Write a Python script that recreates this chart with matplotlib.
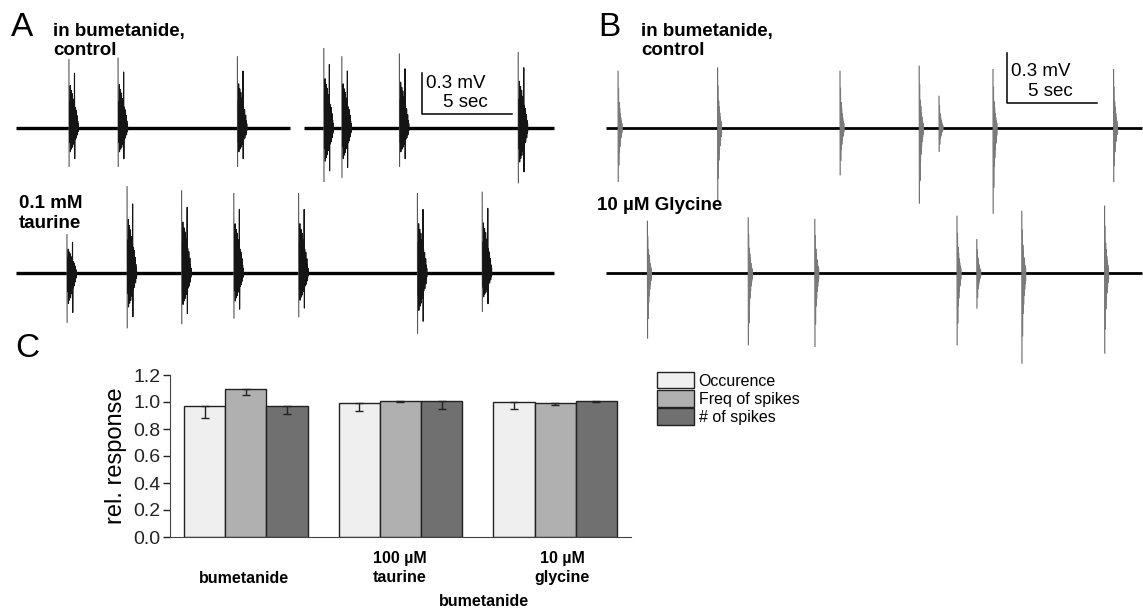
import numpy as np
import matplotlib
matplotlib.use('Agg')
import matplotlib.pyplot as plt

plt.rcParams['font.family'] = ['Liberation Sans', 'DejaVu Sans']

# ---- data ----
# panel A traces (time in s, amplitude in mV)
a_top_segments = [(0.0, 15.2), (16.0, 29.9)]
a_top_times = [2.94, 5.67, 12.3, 17.1, 18.1, 21.3, 27.9]
a_top_up = [0.50, 0.51, 0.52, 0.58, 0.52, 0.54, 0.55]
a_top_down = [0.28, 0.28, 0.28, 0.39, 0.36, 0.28, 0.40]

a_bot_segments = [(0.0, 29.9)]
a_bot_times = [2.83, 6.17, 9.2, 12.1, 15.7, 22.3, 25.9]
a_bot_up = [0.28, 0.63, 0.60, 0.58, 0.58, 0.58, 0.59]
a_bot_down = [0.36, 0.40, 0.37, 0.33, 0.32, 0.44, 0.28]

# panel B traces
b_top_segments = [(0.0, 29.8)]
b_top_times = [0.67, 6.2, 13.0, 17.4, 18.5, 21.5, 28.2]
b_top_up = [0.34, 0.36, 0.34, 0.37, 0.19, 0.35, 0.35]
b_top_down = [0.32, 0.43, 0.28, 0.45, 0.14, 0.51, 0.32]

b_bot_segments = [(0.0, 29.8)]
b_bot_times = [2.3, 7.9, 11.6, 19.5, 20.6, 23.1, 27.7]
b_bot_up = [0.31, 0.33, 0.32, 0.34, 0.20, 0.37, 0.40]
b_bot_down = [0.39, 0.43, 0.44, 0.43, 0.21, 0.54, 0.48]

# burst shapes (offset in s, relative amplitude); first entry is the tall spike
a_burst_dt = [0.00, 0.04, 0.07, 0.10, 0.13, 0.16, 0.19, 0.22, 0.25,
              0.28, 0.31, 0.34, 0.37, 0.40, 0.43, 0.46, 0.49, 0.52]
a_burst_rel = [1.00, 0.38, 0.62, 0.45, 0.55, 0.40, 0.50, 0.33, 0.42,
               0.28, 0.80, 0.30, 0.22, 0.26, 0.15, 0.18, 0.10, 0.06]
b_burst_dt = [0.00, 0.03, 0.06, 0.09, 0.12, 0.15, 0.18, 0.21]
b_burst_rel = [1.00, 0.70, 0.45, 0.35, 0.25, 0.18, 0.12, 0.08]

# panel C bars
groups = ['bumetanide', '100 µM\ntaurine', '10 µM\nglycine']
series = ['Occurence', 'Freq of spikes', '# of spikes']
occ = [0.97, 0.99, 1.00]
occ_err = [0.09, 0.06, 0.05]
freq = [1.10, 1.01, 0.99]
freq_err = [0.05, 0.01, 0.01]
nspk = [0.97, 1.01, 1.01]
nspk_err = [0.06, 0.06, 0.01]
bar_colors = ['#efefef', '#b0b0b0', '#707070']

W, H = 1143, 612
fig = plt.figure(figsize=(W / 100, H / 100), dpi=100)


def ftext(x, y, s, **kw):
    # x, y in pixels from the top left, y is the baseline
    fig.text(x / W, 1 - y / H, s, va='baseline', ha=kw.pop('ha', 'left'), **kw)


def trace_axes(left, base, width, px_per_mv, px_per_s):
    h = 2 * px_per_mv
    ax = fig.add_axes([left / W, 1 - (base + h / 2) / H, width / W, h / H])
    ax.set_xlim(0, width / px_per_s)
    ax.set_ylim(-1, 1)
    ax.axis('off')
    return ax


def draw_trace(ax, segs, times, ups, downs, dt, rel, base_lw, col, spike_col):
    for s0, s1 in segs:
        ax.plot([s0, s1], [0, 0], color='k', lw=base_lw, solid_capstyle='butt')
    for t0, u, d in zip(times, ups, downs):
        # tall leading spike
        ax.plot([t0, t0 + 0.01], [rel[0] * u, -rel[0] * d], color=spike_col, lw=0.8)
        xs, ys = [], []
        for k, r in zip(dt[1:], rel[1:]):
            xs += [t0 + k, t0 + k + 0.012]
            ys += [r * u, -r * d]
        ax.plot(xs, ys, color=col, lw=0.8)


# panel A
ax_a1 = trace_axes(16, 128, 539, 137, 18)
draw_trace(ax_a1, a_top_segments, a_top_times, a_top_up, a_top_down,
           a_burst_dt, a_burst_rel, 2.4, '#151515', '#555555')
ax_a1.plot([22.55, 22.55, 27.55], [0.40, 0.10, 0.10], color='k', lw=1.1)
ax_a2 = trace_axes(16, 273, 539, 137, 18)
draw_trace(ax_a2, a_bot_segments, a_bot_times, a_bot_up, a_bot_down,
           a_burst_dt, a_burst_rel, 2.4, '#151515', '#555555')

# panel B
ax_b1 = trace_axes(606, 128, 537, 167, 18)
draw_trace(ax_b1, b_top_segments, b_top_times, b_top_up, b_top_down,
           b_burst_dt, b_burst_rel, 2.0, '#7a7a7a', '#666666')
ax_b1.plot([22.3, 22.3, 27.3], [0.45, 0.15, 0.15], color='k', lw=1.1)
ax_b2 = trace_axes(606, 273, 537, 167, 18)
draw_trace(ax_b2, b_bot_segments, b_bot_times, b_bot_up, b_bot_down,
           b_burst_dt, b_burst_rel, 2.0, '#7a7a7a', '#666666')

# texts of the traces
ftext(11, 36, 'A', fontsize=24)
ftext(598, 36, 'B', fontsize=24)
ftext(15, 357, 'C', fontsize=24)
ftext(53, 36, 'in bumetanide,', fontsize=13.5, fontweight='bold')
ftext(53, 55, 'control', fontsize=13.5, fontweight='bold')
ftext(19, 208, '0.1 mM', fontsize=13.5, fontweight='bold')
ftext(19, 228, 'taurine', fontsize=13.5, fontweight='bold')
ftext(641, 36, 'in bumetanide,', fontsize=13.5, fontweight='bold')
ftext(641, 55, 'control', fontsize=13.5, fontweight='bold')
ftext(597, 210, '10 µM Glycine', fontsize=13.5, fontweight='bold')
ftext(426, 88, '0.3 mV', fontsize=13.5)
ftext(443, 107, '5 sec', fontsize=13.5)
ftext(1011, 76, '0.3 mV', fontsize=13.5)
ftext(1028, 96, '5 sec', fontsize=13.5)

# panel C
ax = fig.add_axes([170 / W, 75 / H, 461 / W, 162 / H])
x = np.arange(len(groups))
bw = 0.266
vals = [occ, freq, nspk]
errs = [occ_err, freq_err, nspk_err]
for i in range(3):
    ax.bar(x + (i - 1) * bw, vals[i], bw, color=bar_colors[i], edgecolor='#222222',
           linewidth=1.0, label=series[i], zorder=2)
    ax.errorbar(x + (i - 1) * bw, vals[i], yerr=[errs[i], np.zeros(3)], fmt='none',
                ecolor='#222222', elinewidth=1.0, capsize=3, capthick=1.0, zorder=3)
ax.set_xlim(-0.49, 2.49)
ax.set_ylim(0, 1.2)
ax.set_yticks(np.arange(0, 1.21, 0.2))
ax.set_yticklabels(['%.1f' % v for v in np.arange(0, 1.21, 0.2)], fontsize=14)
ax.set_xticks([])
for s in ['top', 'right']:
    ax.spines[s].set_visible(False)
ax.spines['left'].set_color('#444444')
ax.spines['bottom'].set_color('#444444')
ax.tick_params(axis='y', length=5, width=1, pad=2, colors='#222222')
ax.set_ylabel('rel. response', fontsize=17, labelpad=4)

ftext(244, 583, 'bumetanide', fontsize=11.5, fontweight='bold', ha='center')
ftext(400, 563, '100 µM', fontsize=11.5, fontweight='bold', ha='center')
ftext(400, 582, 'taurine', fontsize=11.5, fontweight='bold', ha='center')
ftext(562, 563, '10 µM', fontsize=11.5, fontweight='bold', ha='center')
ftext(562, 582, 'glycine', fontsize=11.5, fontweight='bold', ha='center')
ftext(484, 606, 'bumetanide', fontsize=11.5, fontweight='bold', ha='center')

fig.legend(loc='upper left', bbox_to_anchor=(657 / W, 1 - 372 / H), fontsize=11.5,
           frameon=False, handlelength=2.3, handleheight=1.2, labelspacing=0.1,
           handletextpad=0.3, borderpad=0, borderaxespad=0)

fig.savefig('out.png', dpi=100)
